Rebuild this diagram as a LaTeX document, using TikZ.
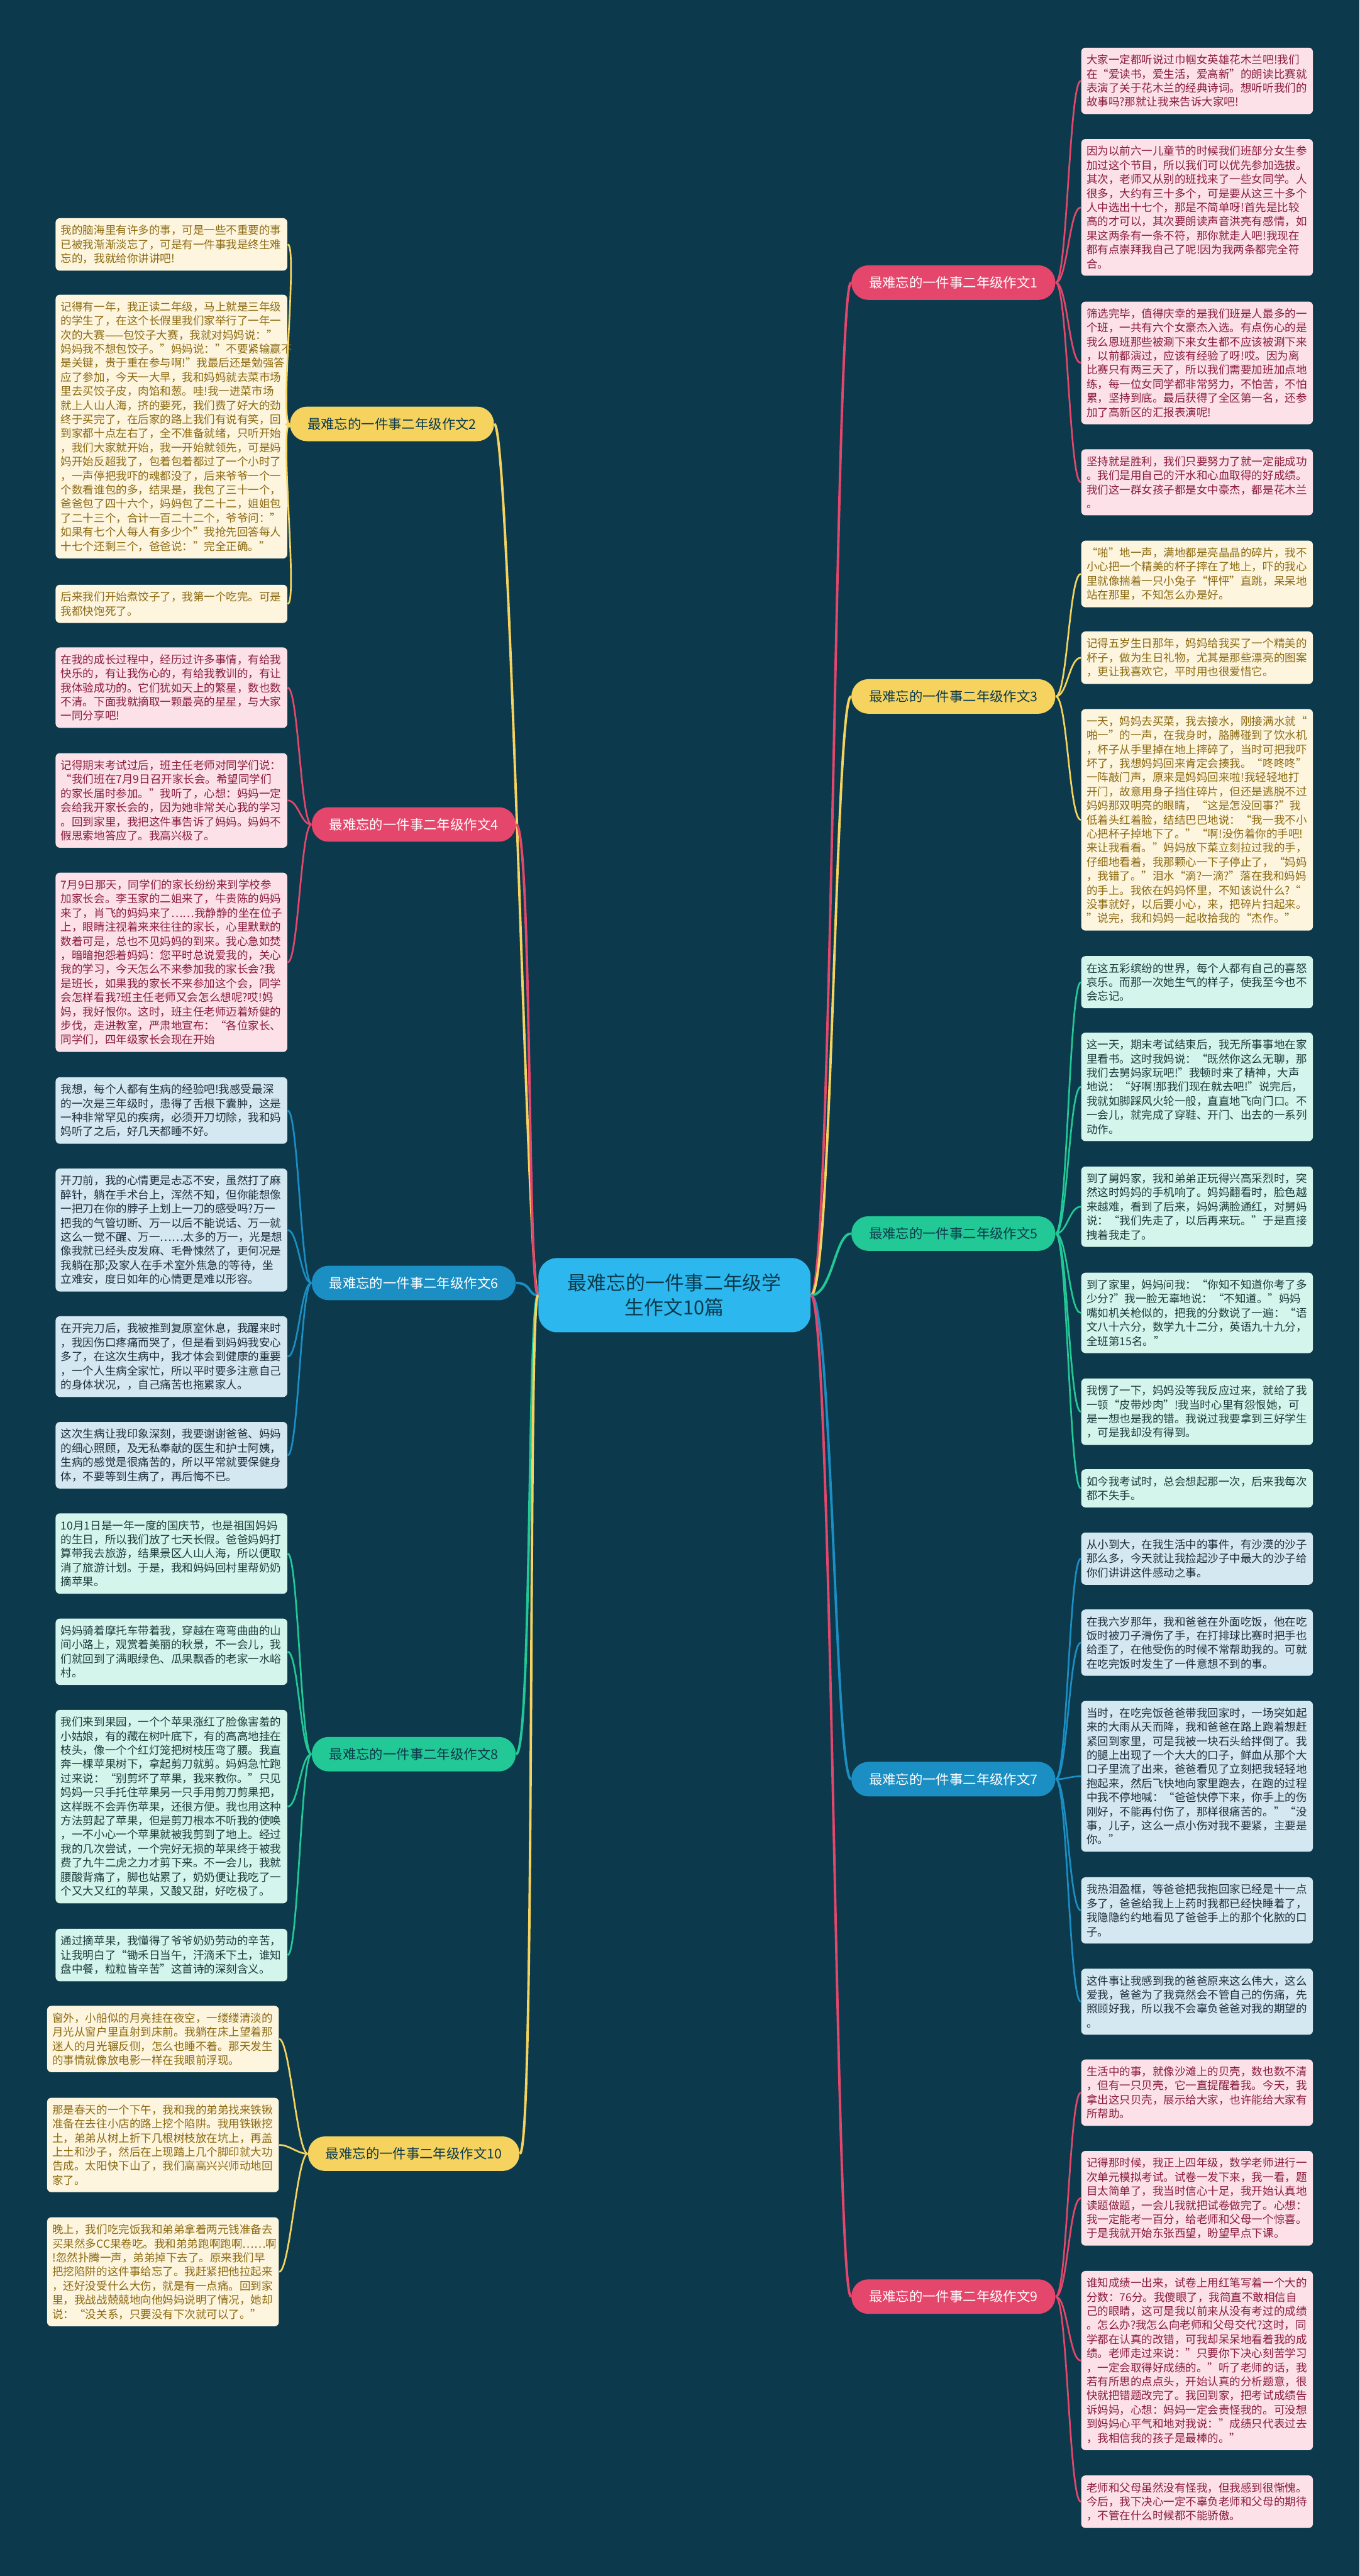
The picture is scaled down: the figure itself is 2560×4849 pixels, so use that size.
\documentclass[tikz,border=0pt]{standalone}
\usepackage{fontspec}
\setmainfont{Noto Sans CJK SC}
\usepackage{tikz}

\definecolor{bgteal}{HTML}{0C3A4C}
\definecolor{pinkpill}{HTML}{E5476C}
\definecolor{pinkfill}{HTML}{FCE1E9}
\definecolor{pinktext}{HTML}{8A1C3C}
\definecolor{goldpill}{HTML}{F6D35F}
\definecolor{goldfill}{HTML}{FDF5DE}
\definecolor{goldtext}{HTML}{8C6A12}
\definecolor{mintpill}{HTML}{22C996}
\definecolor{mintfill}{HTML}{D3F5EC}
\definecolor{minttext}{HTML}{1E3A3C}
\definecolor{bluepill}{HTML}{1B8EC3}
\definecolor{bluefill}{HTML}{D4E8F1}
\definecolor{bluetext}{HTML}{1E2E3E}
\definecolor{rootblue}{HTML}{2CB8EE}

\begin{document}
\begin{tikzpicture}[x=0.01cm,y=-0.01cm,
  leaf/.style={rounded corners=0.08cm, anchor=north west, text width=4.16cm,
    inner xsep=0.10cm, inner ysep=0.13cm, align=left,
    font=\fontsize{5.9}{7.54}\selectfont},
  pinkleaf/.style={leaf, fill=pinkfill, text=pinktext},
  goldleaf/.style={leaf, fill=goldfill, text=goldtext},
  mintleaf/.style={leaf, fill=mintfill, text=minttext},
  blueleaf/.style={leaf, fill=bluefill, text=bluetext},
  branch/.style={rounded corners=0.32cm, minimum height=0.65cm, inner xsep=0.33cm,
    font=\fontsize{7.2}{9}\selectfont},
  pinkbranch/.style={branch, fill=pinkpill, text=white},
  goldbranch/.style={branch, fill=goldpill, text=bgteal},
  mintbranch/.style={branch, fill=mintpill, text=bgteal},
  bluebranch/.style={branch, fill=bluepill, text=white},
  pinklink/.style={draw=pinkpill, line width=0.9pt},
  goldlink/.style={draw=goldpill, line width=0.9pt},
  mintlink/.style={draw=mintpill, line width=0.9pt},
  bluelink/.style={draw=bluepill, line width=0.9pt},
  rootlink/.style={line width=1.3pt}]

% Background
\useasboundingbox (0,0) rectangle (2560,4849);
\fill[bgteal] (0,0) rectangle (2560,4849);

% Root
\node[fill=rootblue, text=bgteal, rounded corners=0.35cm, align=center,
  inner xsep=0.55cm, inner ysep=0.3cm, font=\fontsize{10.4}{13}\selectfont]
  (ctr) at (1270,2438) {最难忘的一件事二年级学\\生作文10篇};

% Branches
\node[pinkbranch] (b1) at (1795,532) {最难忘的一件事二年级作文1};
\node[goldbranch] (b3) at (1795,1311) {最难忘的一件事二年级作文3};
\node[mintbranch] (b5) at (1795,2322) {最难忘的一件事二年级作文5};
\node[bluebranch] (b7) at (1795,3349) {最难忘的一件事二年级作文7};
\node[pinkbranch] (b9) at (1795,4323) {最难忘的一件事二年级作文9};
\node[goldbranch] (b2) at (738,798) {最难忘的一件事二年级作文2};
\node[pinkbranch] (b4) at (779,1552) {最难忘的一件事二年级作文4};
\node[bluebranch] (b6) at (779,2415) {最难忘的一件事二年级作文6};
\node[mintbranch] (b8) at (779,3302) {最难忘的一件事二年级作文8};
\node[goldbranch] (b10) at (779,4054) {最难忘的一件事二年级作文10};

% Root to branches
\draw[rootlink, pinkpill] (ctr.east) .. controls +(40,0) and +(-30,0) .. (b1.west);
\draw[rootlink, goldpill] (ctr.east) .. controls +(40,0) and +(-30,0) .. (b3.west);
\draw[rootlink, mintpill] (ctr.east) .. controls +(40,0) and +(-30,0) .. (b5.west);
\draw[rootlink, bluepill] (ctr.east) .. controls +(40,0) and +(-30,0) .. (b7.west);
\draw[rootlink, pinkpill] (ctr.east) .. controls +(40,0) and +(-30,0) .. (b9.west);
\draw[rootlink, goldpill] (ctr.west) .. controls +(-20,0) and +(30,0) .. (b2.east);
\draw[rootlink, pinkpill] (ctr.west) .. controls +(-20,0) and +(30,0) .. (b4.east);
\draw[rootlink, bluepill] (ctr.west) .. controls +(-20,0) and +(30,0) .. (b6.east);
\draw[rootlink, mintpill] (ctr.west) .. controls +(-20,0) and +(30,0) .. (b8.east);
\draw[rootlink, goldpill] (ctr.west) .. controls +(-20,0) and +(30,0) .. (b10.east);

% Essay 1
\node[pinkleaf] (r1a) at (2035,89) {大家一定都听说过巾帼女英雄花木兰吧!我们\\在“爱读书，爱生活，爱高新”的朗读比赛就\\表演了关于花木兰的经典诗词。想听听我们的\\故事吗?那就让我来告诉大家吧!};
\node[pinkleaf] (r1b) at (2035,261) {因为以前六一儿童节的时候我们班部分女生参\\加过这个节目，所以我们可以优先参加选拔。\\其次，老师又从别的班找来了一些女同学。人\\很多，大约有三十多个，可是要从这三十多个\\人中选出十七个，那是不简单呀!首先是比较\\高的才可以，其次要朗读声音洪亮有感情，如\\果这两条有一条不符，那你就走人吧!我现在\\都有点崇拜我自己了呢!因为我两条都完全符\\合。};
\node[pinkleaf] (r1c) at (2035,567) {筛选完毕，值得庆幸的是我们班是人最多的一\\个班，一共有六个女豪杰入选。有点伤心的是\\我么恩班那些被涮下来女生都不应该被涮下来\\，以前都演过，应该有经验了呀!哎。因为离\\比赛只有两三天了，所以我们需要加班加点地\\练，每一位女同学都非常努力，不怕苦，不怕\\累，坚持到底。最后获得了全区第一名，还参\\加了高新区的汇报表演呢!};
\node[pinkleaf] (r1d) at (2035,845) {坚持就是胜利，我们只要努力了就一定能成功\\。我们是用自己的汗水和心血取得的好成绩。\\我们这一群女孩子都是女中豪杰，都是花木兰\\。};
\foreach \n in {r1a,r1b,r1c,r1d}
  \draw[pinklink] (b1.east) .. controls +(22,0) and +(-22,0) .. (\n.west);

% Essay 3
\node[goldleaf] (r3a) at (2035,1017) {“啪”地一声，满地都是亮晶晶的碎片，我不\\小心把一个精美的杯子摔在了地上，吓的我心\\里就像揣着一只小兔子“怦怦”直跳，呆呆地\\站在那里，不知怎么办是好。};
\node[goldleaf] (r3b) at (2035,1188) {记得五岁生日那年，妈妈给我买了一个精美的\\杯子，做为生日礼物，尤其是那些漂亮的图案\\，更让我喜欢它，平时用也很爱惜它。};
\node[goldleaf] (r3c) at (2035,1334) {一天，妈妈去买菜，我去接水，刚接满水就“\\啪一”的一声，在我身时，胳膊碰到了饮水机\\，杯子从手里掉在地上摔碎了，当时可把我吓\\坏了，我想妈妈回来肯定会揍我。“咚咚咚”\\一阵敲门声，原来是妈妈回来啦!我轻轻地打\\开门，故意用身子挡住碎片，但还是逃脱不过\\妈妈那双明亮的眼睛，“这是怎没回事?”我\\低着头红着脸，结结巴巴地说：“我一我不小\\心把杯子掉地下了。”“啊!没伤着你的手吧!\\来让我看看。”妈妈放下菜立刻拉过我的手，\\仔细地看着，我那颗心一下子停止了，“妈妈\\，我错了。”泪水“滴?一滴?”落在我和妈妈\\的手上。我依在妈妈怀里，不知该说什么?“\\没事就好，以后要小心，来，把碎片扫起来。\\”说完，我和妈妈一起收拾我的“杰作。”};
\foreach \n in {r3a,r3b,r3c}
  \draw[goldlink] (b3.east) .. controls +(22,0) and +(-22,0) .. (\n.west);

% Essay 5
\node[mintleaf] (r5a) at (2035,1799) {在这五彩缤纷的世界，每个人都有自己的喜怒\\哀乐。而那一次她生气的样子，使我至今也不\\会忘记。};
\node[mintleaf] (r5b) at (2035,1943) {这一天，期末考试结束后，我无所事事地在家\\里看书。这时我妈说：“既然你这么无聊，那\\我们去舅妈家玩吧!”我顿时来了精神，大声\\地说：“好啊!那我们现在就去吧!”说完后，\\我就如脚踩风火轮一般，直直地飞向门口。不\\一会儿，就完成了穿鞋、开门、出去的一系列\\动作。};
\node[mintleaf] (r5c) at (2035,2195) {到了舅妈家，我和弟弟正玩得兴高采烈时，突\\然这时妈妈的手机响了。妈妈翻看时，脸色越\\来越难，看到了后来，妈妈满脸通红，对舅妈\\说：“我们先走了，以后再来玩。”于是直接\\拽着我走了。};
\node[mintleaf] (r5d) at (2035,2395) {到了家里，妈妈问我：“你知不知道你考了多\\少分?”我一脸无辜地说：“不知道。”妈妈\\嘴如机关枪似的，把我的分数说了一遍：“语\\文八十六分，数学九十二分，英语九十九分，\\全班第15名。”};
\node[mintleaf] (r5e) at (2035,2594) {我愣了一下，妈妈没等我反应过来，就给了我\\一顿“皮带炒肉”!我当时心里有怨恨她，可\\是一想也是我的错。我说过我要拿到三好学生\\，可是我却没有得到。};
\node[mintleaf] (r5f) at (2035,2765) {如今我考试时，总会想起那一次，后来我每次\\都不失手。};
\foreach \n in {r5a,r5b,r5c,r5d,r5e,r5f}
  \draw[mintlink] (b5.east) .. controls +(22,0) and +(-22,0) .. (\n.west);

% Essay 7
\node[blueleaf] (r7a) at (2035,2884) {从小到大，在我生活中的事件，有沙漠的沙子\\那么多，今天就让我捡起沙子中最大的沙子给\\你们讲讲这件感动之事。};
\node[blueleaf] (r7b) at (2035,3029) {在我六岁那年，我和爸爸在外面吃饭，他在吃\\饭时被刀子滑伤了手，在打排球比赛时把手也\\给歪了，在他受伤的时候不常帮助我的。可就\\在吃完饭时发生了一件意想不到的事。};
\node[blueleaf] (r7c) at (2035,3201) {当时，在吃完饭爸爸带我回家时，一场突如起\\来的大雨从天而降，我和爸爸在路上跑着想赶\\紧回到家里，可是我被一块石头给拌倒了。我\\的腿上出现了一个大大的口子，鲜血从那个大\\口子里流了出来，爸爸看见了立刻把我轻轻地\\抱起来，然后飞快地向家里跑去，在跑的过程\\中我不停地喊：“爸爸快停下来，你手上的伤\\刚好，不能再付伤了，那样很痛苦的。”“没\\事，儿子，这么一点小伤对我不要紧，主要是\\你。”};
\node[blueleaf] (r7d) at (2035,3533) {我热泪盈框，等爸爸把我抱回家已经是十一点\\多了，爸爸给我上上药时我都已经快睡着了，\\我隐隐约约地看见了爸爸手上的那个化脓的口\\子。};
\node[blueleaf] (r7e) at (2035,3705) {这件事让我感到我的爸爸原来这么伟大，这么\\爱我，爸爸为了我竟然会不管自己的伤痛，先\\照顾好我，所以我不会辜负爸爸对我的期望的\\。};
\foreach \n in {r7a,r7b,r7c,r7d,r7e}
  \draw[bluelink] (b7.east) .. controls +(22,0) and +(-22,0) .. (\n.west);

% Essay 9
\node[pinkleaf] (r9a) at (2035,3876) {生活中的事，就像沙滩上的贝壳，数也数不清\\，但有一只贝壳，它一直提醒着我。今天，我\\拿出这只贝壳，展示给大家，也许能给大家有\\所帮助。};
\node[pinkleaf] (r9b) at (2035,4048) {记得那时候，我正上四年级，数学老师进行一\\次单元模拟考试。试卷一发下来，我一看，题\\目太简单了，我当时信心十足，我开始认真地\\读题做题，一会儿我就把试卷做完了。心想：\\我一定能考一百分，给老师和父母一个惊喜。\\于是我就开始东张西望，盼望早点下课。};
\node[pinkleaf] (r9c) at (2035,4274) {谁知成绩一出来，试卷上用红笔写着一个大的\\分数：76分。我傻眼了，我简直不敢相信自\\己的眼睛，这可是我以前来从没有考过的成绩\\。怎么办?我怎么向老师和父母交代?这时，同\\学都在认真的改错，可我却呆呆地看着我的成\\绩。老师走过来说：”只要你下决心刻苦学习\\，一定会取得好成绩的。”听了老师的话，我\\若有所思的点点头，开始认真的分析题意，很\\快就把错题改完了。我回到家，把考试成绩告\\诉妈妈，心想：妈妈一定会责怪我的。可没想\\到妈妈心平气和地对我说：”成绩只代表过去\\，我相信我的孩子是最棒的。”};
\node[pinkleaf] (r9d) at (2035,4659) {老师和父母虽然没有怪我，但我感到很惭愧。\\今后，我下决心一定不辜负老师和父母的期待\\，不管在什么时候都不能骄傲。};
\foreach \n in {r9a,r9b,r9c,r9d}
  \draw[pinklink] (b9.east) .. controls +(22,0) and +(-22,0) .. (\n.west);

% Essay 2
\node[goldleaf] (l2a) at (104,410) {我的脑海里有许多的事，可是一些不重要的事\\已被我渐渐淡忘了，可是有一件事我是终生难\\忘的，我就给你讲讲吧!};
\node[goldleaf] (l2b) at (104,554) {记得有一年，我正读二年级，马上就是三年级\\的学生了，在这个长假里我们家举行了一年一\\次的大赛——包饺子大赛，我就对妈妈说："\\妈妈我不想包饺子。"妈妈说："不要紧输赢不\\是关键，贵于重在参与啊!"我最后还是勉强答\\应了参加，今天一大早，我和妈妈就去菜市场\\里去买饺子皮，肉馅和葱。哇!我一进菜市场\\就上人山人海，挤的要死，我们费了好大的劲\\终于买完了，在后家的路上我们有说有笑，回\\到家都十点左右了，全不准备就绪，只听开始\\，我们大家就开始，我一开始就领先，可是妈\\妈开始反超我了，包着包着都过了一个小时了\\，一声停把我吓的魂都没了，后来爷爷一个一\\个数看谁包的多，结果是，我包了三十一个，\\爸爸包了四十六个，妈妈包了二十二，姐姐包\\了二十三个，合计一百二十二个，爷爷问："\\如果有七个人每人有多少个"我抢先回答每人\\十七个还剩三个，爸爸说："完全正确。"};
\node[goldleaf] (l2c) at (104,1100) {后来我们开始煮饺子了，我第一个吃完。可是\\我都快饱死了。};
\foreach \n in {l2a,l2b,l2c}
  \draw[goldlink] (b2.west) .. controls +(-20,0) and +(20,0) .. (\n.east);

% Essay 4
\node[pinkleaf] (l4a) at (104,1218) {在我的成长过程中，经历过许多事情，有给我\\快乐的，有让我伤心的，有给我教训的，有让\\我体验成功的。它们犹如天上的繁星，数也数\\不清。下面我就摘取一颗最亮的星星，与大家\\一同分享吧!};
\node[pinkleaf] (l4b) at (104,1417) {记得期末考试过后，班主任老师对同学们说：\\“我们班在7月9日召开家长会。希望同学们\\的家长届时参加。”我听了，心想：妈妈一定\\会给我开家长会的，因为她非常关心我的学习\\。回到家里，我把这件事告诉了妈妈。妈妈不\\假思索地答应了。我高兴极了。};
\node[pinkleaf] (l4c) at (104,1642) {7月9日那天，同学们的家长纷纷来到学校参\\加家长会。李玉家的二姐来了，牛贵陈的妈妈\\来了，肖飞的妈妈来了……我静静的坐在位子\\上，眼睛注视着来来往往的家长，心里默默的\\数着可是，总也不见妈妈的到来。我心急如焚\\，暗暗抱怨着妈妈：您平时总说爱我的，关心\\我的学习，今天怎么不来参加我的家长会?我\\是班长，如果我的家长不来参加这个会，同学\\会怎样看我?班主任老师又会怎么想呢?哎!妈\\妈，我好恨你。这时，班主任老师迈着矫健的\\步伐，走进教室，严肃地宣布：“各位家长、\\同学们，四年级家长会现在开始};
\foreach \n in {l4a,l4b,l4c}
  \draw[pinklink] (b4.west) .. controls +(-20,0) and +(20,0) .. (\n.east);

% Essay 6
\node[blueleaf] (l6a) at (104,2027) {我想，每个人都有生病的经验吧!我感受最深\\的一次是三年级时，患得了舌根下囊肿，这是\\一种非常罕见的疾病，必须开刀切除，我和妈\\妈听了之后，好几天都睡不好。};
\node[blueleaf] (l6b) at (104,2199) {开刀前，我的心情更是忐忑不安，虽然打了麻\\醉针，躺在手术台上，浑然不知，但你能想像\\一把刀在你的脖子上划上一刀的感受吗?万一\\把我的气管切断、万一以后不能说话、万一就\\这么一觉不醒、万一……太多的万一，光是想\\像我就已经头皮发麻、毛骨悚然了，更何况是\\我躺在那;及家人在手术室外焦急的等待，坐\\立难安，度日如年的心情更是难以形容。};
\node[blueleaf] (l6c) at (104,2477) {在开完刀后，我被推到复原室休息，我醒来时\\，我因伤口疼痛而哭了，但是看到妈妈我安心\\多了，在这次生病中，我才体会到健康的重要\\，一个人生病全家忙，所以平时要多注意自己\\的身体状况，，自己痛苦也拖累家人。};
\node[blueleaf] (l6d) at (104,2676) {这次生病让我印象深刻，我要谢谢爸爸、妈妈\\的细心照顾，及无私奉献的医生和护士阿姨，\\生病的感觉是很痛苦的，所以平常就要保健身\\体，不要等到生病了，再后悔不已。};
\foreach \n in {l6a,l6b,l6c,l6d}
  \draw[bluelink] (b6.west) .. controls +(-20,0) and +(20,0) .. (\n.east);

% Essay 8
\node[mintleaf] (l8a) at (104,2848) {10月1日是一年一度的国庆节，也是祖国妈妈\\的生日，所以我们放了七天长假。爸爸妈妈打\\算带我去旅游，结果景区人山人海，所以便取\\消了旅游计划。于是，我和妈妈回村里帮奶奶\\摘苹果。};
\node[mintleaf] (l8b) at (104,3046) {妈妈骑着摩托车带着我，穿越在弯弯曲曲的山\\间小路上，观赏着美丽的秋景，不一会儿，我\\们就回到了满眼绿色、瓜果飘香的老家一水峪\\村。};
\node[mintleaf] (l8c) at (104,3218) {我们来到果园，一个个苹果涨红了脸像害羞的\\小姑娘，有的藏在树叶底下，有的高高地挂在\\枝头，像一个个红灯笼把树枝压弯了腰。我直\\奔一棵苹果树下，拿起剪刀就剪。妈妈急忙跑\\过来说：“别剪坏了苹果，我来教你。”只见\\妈妈一只手托住苹果另一只手用剪刀剪果把，\\这样既不会弄伤苹果，还很方便。我也用这种\\方法剪起了苹果，但是剪刀根本不听我的使唤\\，一不小心一个苹果就被我剪到了地上。经过\\我的几次尝试，一个完好无损的苹果终于被我\\费了九牛二虎之力才剪下来。不一会儿，我就\\腰酸背痛了，脚也站累了，奶奶便让我吃了一\\个又大又红的苹果，又酸又甜，好吃极了。};
\node[mintleaf] (l8d) at (104,3630) {通过摘苹果，我懂得了爷爷奶奶劳动的辛苦，\\让我明白了“锄禾日当午，汗滴禾下土，谁知\\盘中餐，粒粒皆辛苦”这首诗的深刻含义。};
\foreach \n in {l8a,l8b,l8c,l8d}
  \draw[mintlink] (b8.west) .. controls +(-20,0) and +(20,0) .. (\n.east);

% Essay 10
\node[goldleaf] (l10a) at (88,3775) {窗外，小船似的月亮挂在夜空，一缕缕清淡的\\月光从窗户里直射到床前。我躺在床上望着那\\迷人的月光辗反侧，怎么也睡不着。那天发生\\的事情就像放电影一样在我眼前浮现。};
\node[goldleaf] (l10b) at (88,3948) {那是春天的一个下午，我和我的弟弟找来铁锹\\准备在去往小店的路上挖个陷阱。我用铁锹挖\\土，弟弟从树上折下几根树枝放在坑上，再盖\\上土和沙子，然后在上现踏上几个脚印就大功\\告成。太阳快下山了，我们高高兴兴师动地回\\家了。};
\node[goldleaf] (l10c) at (88,4173) {晚上，我们吃完饭我和弟弟拿着两元钱准备去\\买果然多CC果卷吃。我和弟弟跑啊跑啊……啊\\!忽然扑腾一声，弟弟掉下去了。原来我们早\\把挖陷阱的这件事给忘了。我赶紧把他拉起来\\，还好没受什么大伤，就是有一点痛。回到家\\里，我战战兢兢地向他妈妈说明了情况，她却\\说：“没关系，只要没有下次就可以了。”};
\foreach \n in {l10a,l10b,l10c}
  \draw[goldlink] (b10.west) .. controls +(-20,0) and +(20,0) .. (\n.east);

\end{tikzpicture}
\end{document}
